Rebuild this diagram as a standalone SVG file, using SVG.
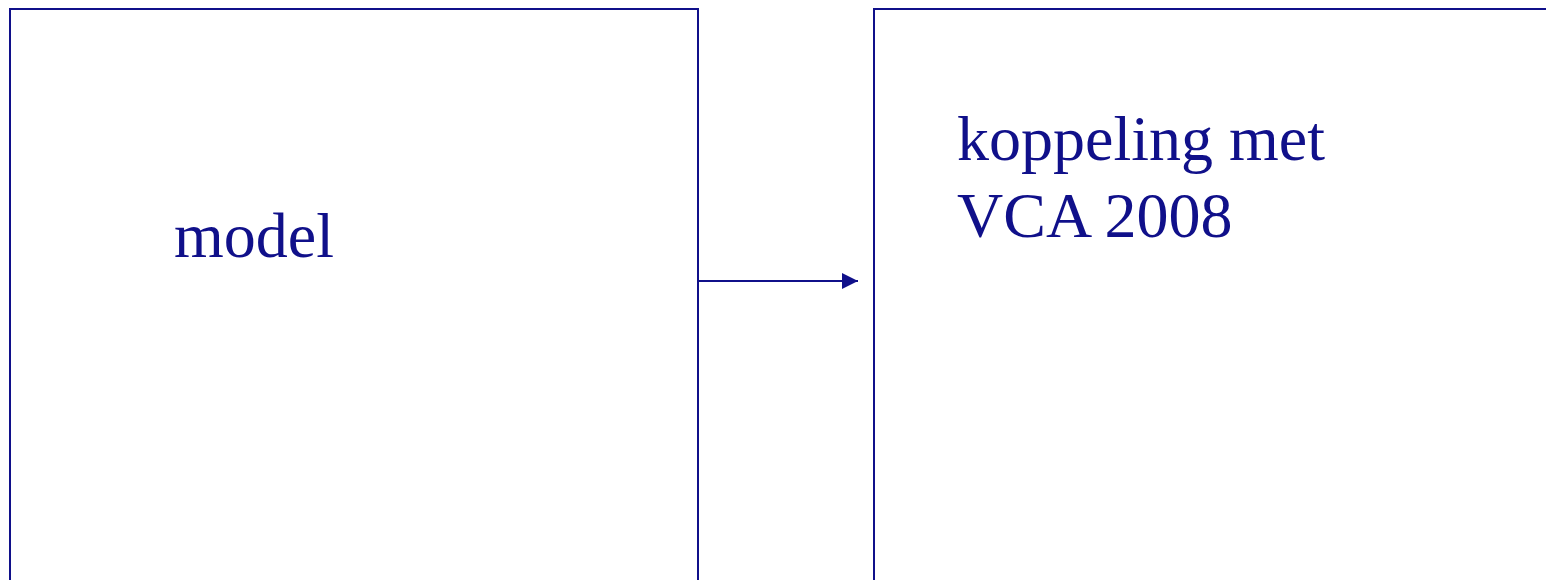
<svg xmlns="http://www.w3.org/2000/svg" width="1546" height="580" viewBox="0 0 1546 580">
<style>
.box{fill:#fff;stroke:#10108a;stroke-width:2}
.t{font-family:"Liberation Serif","Times New Roman",serif;font-size:64px;fill:#10108a}
.c{stroke:#10108a;stroke-width:2;fill:none}
</style>
<defs>
<marker id="ah" markerUnits="userSpaceOnUse" markerWidth="16" markerHeight="16" refX="16" refY="8" orient="auto">
<path d="M0,0 L16,8 L0,16 Z" fill="#10108a"/>
</marker>
</defs>
<rect width="1546" height="580" fill="#fff"/>
<g id="node-model">
<rect class="box" x="10" y="9" width="688" height="600"/>
<text class="t" x="174" y="257">model</text>
</g>
<g id="node-koppeling">
<rect class="box" x="874" y="9" width="700" height="600"/>
<text class="t" x="957" y="160">koppeling met</text>
<text class="t" x="957" y="237">VCA 2008</text>
</g>
<g id="connectors">
<line class="c" x1="698" y1="281" x2="858" y2="281" marker-end="url(#ah)"/>
</g>
</svg>
